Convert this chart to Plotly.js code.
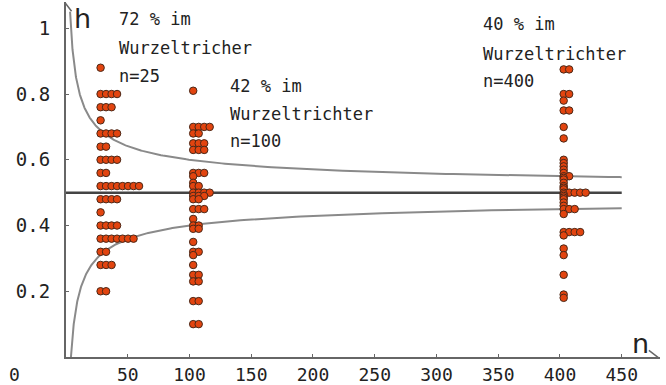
<!DOCTYPE html>
<html>
<head>
<meta charset="utf-8">
<script src="https://cdn.plot.ly/plotly-3.0.1.min.js"></script>
<style>html,body{margin:0;padding:0;background:#fff;}#chart{width:666px;height:385px;}</style>
</head>
<body>
<div id="chart"></div>
<script>
// ---- data ----
const sampleSizes = [25, 100, 400];

const n25Values  = [0.88,0.80,0.76,0.72,0.68,0.64,0.60,0.56,0.52,0.48,0.44,0.40,0.36,0.32,0.28,0.20];
const n25Counts  = [1,   4,   3,   1,   4,   2,   4,   2,   8,   4,   1,   4,   7,   2,   3,   2];

const n100Values = [0.81,0.70,0.68,0.65,0.63,0.56,0.55,0.53,0.52,0.50,0.49,0.48,0.45,0.42,0.40,0.39,0.35,0.32,0.31,0.28,0.25,0.23,0.17,0.10];
const n100Counts = [1,   4,   2,   3,   3,   3,   1,   1,   2,   4,   3,   2,   3,   1,   2,   2,   1,   2,   1,   1,   2,   2,   2,   2];

const n400Values = [0.875,0.80,0.78,0.75,0.70,0.665,0.60,0.59,0.58,0.57,0.56,0.55,0.545,0.54,0.53,0.52,0.515,0.51,0.50,0.495,0.49,0.485,0.48,0.47,0.46,0.45,0.435,0.38,0.37,0.33,0.31,0.25,0.19,0.18];
const n400Counts = [2,    2,   1,   2,   1,   1,    1,   1,   1,   1,   1,   2,   1,    1,   1,   1,   1,    1,   5,   1,    1,   1,    1,   1,   1,   3,   1,    4,   1,   1,   1,   1,   1,   1];

const insideLabels = [
  ["72 % im", "Wurzeltricher", "n=25"],
  ["42 % im", "Wurzeltrichter", "n=100"],
  ["40 % im", "Wurzeltrichter", "n=400"]
];
const xTickVals = [50,100,150,200,250,300,350,400,450];
const yTickVals = [0.2,0.4,0.6,0.8,1];
const yTickText = ["0.2","0.4","0.6","0.8","1"];
const centerLine = 0.5;
const funnelEnd = 450;

// ---- build traces ----
const columns = [
  {n: sampleSizes[0], vals: n25Values,  cnts: n25Counts},
  {n: sampleSizes[1], vals: n100Values, cnts: n100Counts},
  {n: sampleSizes[2], vals: n400Values, cnts: n400Counts}
];
const STEP = 4.45, OFFSET = 3;
const px = [], py = [];
columns.forEach(c => {
  c.vals.forEach((v, i) => {
    for (let k = 0; k < c.cnts[i]; k++) { px.push(c.n + OFFSET + k * STEP); py.push(v); }
  });
});

// funnel 0.5 ± 1/sqrt(n)
const upX = [], upY = [], loX = [], loY = [];
for (let n = 3.3; n <= funnelEnd; n *= 1.02) { upX.push(n); upY.push(centerLine + 1/Math.sqrt(n)); }
upX.push(funnelEnd); upY.push(centerLine + 1/Math.sqrt(funnelEnd));
for (let n = 4; n <= funnelEnd; n *= 1.02) { loX.push(n); loY.push(centerLine - 1/Math.sqrt(n)); }
loX.push(funnelEnd); loY.push(centerLine - 1/Math.sqrt(funnelEnd));

const traces = [
  {x: upX, y: upY, mode: 'lines', line: {color: '#8a8a8a', width: 2}, hoverinfo: 'skip'},
  {x: loX, y: loY, mode: 'lines', line: {color: '#8a8a8a', width: 2}, hoverinfo: 'skip'},
  {x: [0, funnelEnd], y: [centerLine, centerLine], mode: 'lines', line: {color: '#444', width: 2.5}, hoverinfo: 'skip'},
  {x: px, y: py, mode: 'markers',
   marker: {size: 7.5, color: '#e2440f', line: {color: '#4a2818', width: 1}}}
];

const annFont = {family: 'DejaVu Sans Mono', size: 17, color: '#222'};
const labelPos = [
  {x: 41.3, ys: [1.027, 0.941, 0.856]},
  {x: 131.1, ys: [0.825, 0.740, 0.658]},
  {x: 335.9, ys: [1.012, 0.923, 0.840]}
];
const annotations = [];
insideLabels.forEach((lines, i) => {
  lines.forEach((t, j) => {
    annotations.push({x: labelPos[i].x, y: labelPos[i].ys[j], xref: 'x', yref: 'y', text: t,
      showarrow: false, xanchor: 'left', yanchor: 'middle', font: annFont});
  });
});
annotations.push({x: 5, y: 1.03, xref: 'x', yref: 'y', text: 'h', showarrow: false,
  xanchor: 'left', yanchor: 'middle', font: {family: 'DejaVu Sans', size: 27, color: '#222'}});
annotations.push({x: 465, y: 0.04, xref: 'x', yref: 'y', text: 'n', showarrow: false,
  xanchor: 'center', yanchor: 'middle', font: {family: 'DejaVu Sans', size: 27, color: '#222'}});
annotations.push({x: -0.0875, y: -0.05, xref: 'paper', yref: 'paper', text: '0', showarrow: false,
  xanchor: 'center', yanchor: 'middle', font: {family: 'DejaVu Sans Mono', size: 18, color: '#222'}});

const shapes = [
  {type: 'path', xref: 'x', yref: 'y', path: 'M -4.5,1.052 L 0,1.074 L 4.5,1.052', line: {color: '#666', width: 1.5}},
  {type: 'path', xref: 'x', yref: 'y', path: 'M 472,0.02 L 479,0 L 472,-0.02', line: {color: '#666', width: 1.5}}
];

const layout = {
  width: 666, height: 385,
  margin: {l: 66, r: 6, t: 2, b: 28, pad: 0},
  paper_bgcolor: '#fff', plot_bgcolor: '#fff',
  showlegend: false,
  xaxis: {range: [0, 481], showgrid: false, zeroline: false, showline: true, linecolor: '#666', linewidth: 2,
    tickvals: xTickVals, ticks: 'inside', ticklen: 3, tickcolor: '#666',
    ticklabelstandoff: 0,
    tickfont: {family: 'DejaVu Sans Mono', size: 18, color: '#222'}},
  yaxis: {range: [0, 1.08], showgrid: false, zeroline: false, showline: true, linecolor: '#666', linewidth: 2,
    tickvals: yTickVals, ticktext: yTickText, ticks: 'inside', ticklen: 3, tickcolor: '#666',
    ticklabelstandoff: 10,
    tickfont: {family: 'DejaVu Sans Mono', size: 19, color: '#222'}},
  annotations: annotations,
  shapes: shapes
};

Plotly.newPlot('chart', traces, layout, {displayModeBar: false, staticPlot: true});
</script>
</body>
</html>
